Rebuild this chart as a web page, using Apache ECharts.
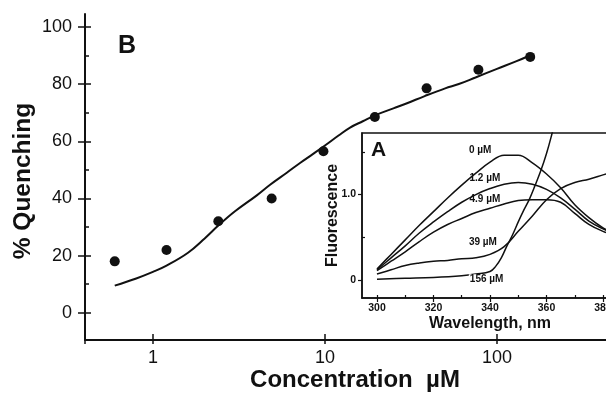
<!DOCTYPE html>
<html>
<head>
<meta charset="utf-8">
<script src="https://cdn.jsdelivr.net/npm/echarts@6/dist/echarts.min.js"></script>
<style>
  html, body { margin: 0; padding: 0; background: #fff; }
  #chart { width: 606px; height: 393px; }
</style>
</head>
<body>
<div id="chart"></div>
<script>
// Panel B: % quenching vs concentration (log axis)
const concentrations = [0.6, 1.2, 2.4, 4.9, 9.8, 19.5, 39, 78, 156];
const quenching = [18, 22, 32, 40, 56.5, 68.5, 78.5, 85, 89.5];
// fitted curve
const fitConc = [0.6, 0.8, 1, 1.2, 1.6, 2, 2.4, 3, 4, 4.8, 6, 7.2, 8.5, 10, 12, 14, 16.6, 20, 25, 30, 38, 50, 60, 75, 100, 130, 155];
const fitQuench = [9.5, 12, 14.3, 16.5, 21, 26, 30.5, 35.5, 41, 44.8, 49, 52.5, 55.5, 58.5, 62, 64.8, 67, 69.3, 71.5, 73.3, 75.8, 78.5, 80, 82.3, 85.3, 88, 90];
const yTicks = [0, 20, 40, 60, 80, 100];
const yMinorTicks = [10, 30, 50, 70, 90];

// Panel A (inset): fluorescence spectra
const wavelengths = [300, 305, 310, 315, 320, 325, 330, 335, 340, 345, 350, 355, 360, 365, 370, 375, 380, 385];
const spec0 = [0.13, 0.30, 0.47, 0.64, 0.80, 0.96, 1.11, 1.25, 1.38, 1.46, 1.46, 1.37, 1.24, 1.08, 0.88, 0.73, 0.61, 0.52];
const spec12 = [0.12, 0.26, 0.40, 0.55, 0.68, 0.80, 0.91, 1.00, 1.07, 1.12, 1.14, 1.12, 1.06, 0.96, 0.83, 0.69, 0.60, 0.53];
const spec49 = [0.11, 0.22, 0.33, 0.45, 0.56, 0.65, 0.72, 0.79, 0.84, 0.89, 0.93, 0.94, 0.94, 0.91, 0.78, 0.65, 0.57, 0.51];
const spec39 = [0.07, 0.12, 0.17, 0.20, 0.22, 0.23, 0.25, 0.26, 0.30, 0.39, 0.57, 0.75, 0.94, 1.07, 1.14, 1.18, 1.23, 1.28];
const wl156 = [300, 310, 320, 330, 335, 340, 342, 344, 346, 348, 350, 352, 354, 356, 358, 360, 362, 364];
const spec156 = [0.01, 0.02, 0.03, 0.05, 0.07, 0.10, 0.16, 0.26, 0.40, 0.53, 0.68, 0.82, 0.95, 1.11, 1.28, 1.48, 1.72, 1.98];
const specLabels = ["0 µM", "1.2 µM", "4.9 µM", "39 µM", "156 µM"];
const labelWl = [336.5, 338.2, 338.2, 337.5, 338.8];
const labelF = [1.52, 1.19, 0.94, 0.44, 0.01];
const wlTicks = [300, 320, 340, 360, 380];
const wlMinorTicks = [300, 310, 320, 330, 340, 350, 360, 370, 380];
const fTicks = [0, 1.0];
const fMinorTicks = [0.5, 1.5];

const INK = "#111";
const FONT = "Liberation Sans, Arial, sans-serif";

const chart = echarts.init(document.getElementById("chart"), null, { renderer: "canvas" });

const spectra = [
  [wavelengths, spec0],
  [wavelengths, spec12],
  [wavelengths, spec49],
  [wavelengths, spec39],
  [wl156, spec156],
];

const tickOnly = (extra) => Object.assign({
  axisLine: { show: false, onZero: false },
  axisLabel: { show: false },
  splitLine: { show: false },
}, extra);

const option = {
  animation: false,
  backgroundColor: "#fff",
  textStyle: { fontFamily: FONT, color: INK },
  title: [
    { text: "B", left: 118, top: 34, padding: 0, textStyle: { fontSize: 25, fontWeight: "bold", color: INK, fontFamily: FONT } },
    { text: "A", left: 371, top: 140, padding: 0, textStyle: { fontSize: 21, fontWeight: "bold", color: INK, fontFamily: FONT } },
  ],
  // both panels run past the right edge of the picture (the scan is cropped)
  grid: [
    { left: 85, top: 14, width: 561, bottom: 53, outerBoundsMode: "none" },
    { left: 362, top: 133, width: 256, bottom: 95, outerBoundsMode: "none",
      show: true, backgroundColor: "#fff", borderColor: INK, borderWidth: 1.5 },
  ],
  xAxis: [
    {
      gridIndex: 0, type: "log", logBase: 10, position: "bottom", min: 0.403, max: 735,
      axisLine: { onZero: false, lineStyle: { color: INK, width: 2 } },
      axisTick: { length: 4, lineStyle: { color: INK, width: 1.5 } },
      axisLabel: {
        fontSize: 18, margin: 9, color: INK,
        formatter: (v) => {
          const l = Math.log10(v);
          return Math.abs(l - Math.round(l)) < 1e-6 ? String(Math.round(v)) : "";
        },
      },
      splitLine: { show: false },
      name: "Concentration  µM", nameLocation: "middle", nameGap: 28, nameMoveOverlap: false,
      nameTextStyle: { fontSize: 24, fontWeight: "bold", color: INK, padding: [0, 21, 0, 0] },
    },
    tickOnly({
      gridIndex: 0, type: "log", logBase: 10, position: "bottom", min: 0.403, max: 735,
      axisTick: { inside: true, length: 6, lineStyle: { color: INK, width: 1.5 } },
    }),
    {
      gridIndex: 1, type: "value", position: "bottom", min: 294.7, max: 385.3,
      axisLine: { onZero: false, lineStyle: { color: INK, width: 1.5 } },
      axisTick: { customValues: wlTicks, length: 4, lineStyle: { color: INK, width: 1.2 } },
      axisLabel: { customValues: wlTicks, fontSize: 10.5, fontWeight: "bold", margin: 5, color: INK },
      splitLine: { show: false },
      name: "Wavelength, nm", nameLocation: "middle", nameGap: 18, nameMoveOverlap: false,
      nameTextStyle: { fontSize: 16, fontWeight: "bold", color: INK },
    },
    tickOnly({
      gridIndex: 1, type: "value", position: "bottom", min: 294.7, max: 385.3,
      axisTick: { inside: true, customValues: wlMinorTicks, length: 3, lineStyle: { color: INK, width: 1.2 } },
    }),
  ],
  yAxis: [
    {
      gridIndex: 0, type: "value", position: "left", min: -9.5, max: 104.5,
      axisLine: { onZero: false, lineStyle: { color: INK, width: 2 } },
      axisTick: { customValues: yTicks, length: 7, lineStyle: { color: INK, width: 1.5 } },
      axisLabel: { customValues: yTicks, fontSize: 18, margin: 13, color: INK },
      splitLine: { show: false },
      name: "% Quenching", nameLocation: "middle", nameGap: 49, nameMoveOverlap: false,
      nameTextStyle: { fontSize: 24.5, fontWeight: "bold", color: INK, padding: [0, 8, 0, 0] },
    },
    tickOnly({
      gridIndex: 0, type: "value", position: "left", min: -9.5, max: 104.5,
      axisTick: { inside: true, customValues: yTicks, length: 6, lineStyle: { color: INK, width: 1.5 } },
    }),
    tickOnly({
      gridIndex: 0, type: "value", position: "left", min: -9.5, max: 104.5,
      axisTick: { inside: true, customValues: yMinorTicks, length: 4, lineStyle: { color: INK, width: 1.5 } },
    }),
    {
      gridIndex: 1, type: "value", position: "left", min: -0.21, max: 1.72,
      axisLine: { onZero: false, lineStyle: { color: INK, width: 1.5 } },
      axisTick: { customValues: fTicks, length: 4, lineStyle: { color: INK, width: 1.2 } },
      axisLabel: {
        customValues: fTicks, fontSize: 10.5, fontWeight: "bold", margin: 6, color: INK,
        formatter: (v) => (v === 0 ? "0" : v.toFixed(1)),
      },
      splitLine: { show: false },
      name: "Fluorescence", nameLocation: "middle", nameGap: 21, nameMoveOverlap: false,
      nameTextStyle: { fontSize: 16, fontWeight: "bold", color: INK },
    },
    tickOnly({
      gridIndex: 1, type: "value", position: "left", min: -0.21, max: 1.72,
      axisTick: { inside: true, customValues: fMinorTicks, length: 3, lineStyle: { color: INK, width: 1.2 } },
    }),
  ],
  series: [
    {
      type: "line", xAxisIndex: 0, yAxisIndex: 0,
      data: fitConc.map((c, i) => [c, fitQuench[i]]),
      smooth: 0.4, showSymbol: false,
      lineStyle: { color: INK, width: 2 },
    },
    {
      type: "scatter", xAxisIndex: 0, yAxisIndex: 0,
      data: concentrations.map((c, i) => [c, quenching[i]]),
      symbolSize: 10, itemStyle: { color: INK, opacity: 1 }, z: 3,
    },
    ...spectra.map(([xs, ys], i) => ({
      type: "line", xAxisIndex: 2, yAxisIndex: 3,
      data: xs.map((x, j) => [x, ys[j]]),
      smooth: 0.4, showSymbol: false,
      lineStyle: { color: INK, width: 1.5 },
      markPoint: {
        silent: true, symbol: "rect", symbolSize: 1,
        itemStyle: { color: "rgba(0,0,0,0)" },
        label: {
          show: true, position: "inside", formatter: specLabels[i],
          fontSize: 10, fontWeight: "bold", color: INK, fontFamily: FONT,
          backgroundColor: i === 4 ? "#fff" : "transparent", padding: [0, 1],
        },
        data: [{ coord: [labelWl[i], labelF[i]] }],
      },
    })),
  ],
};

chart.setOption(option);
window.addEventListener("resize", () => chart.resize());
</script>
</body>
</html>
